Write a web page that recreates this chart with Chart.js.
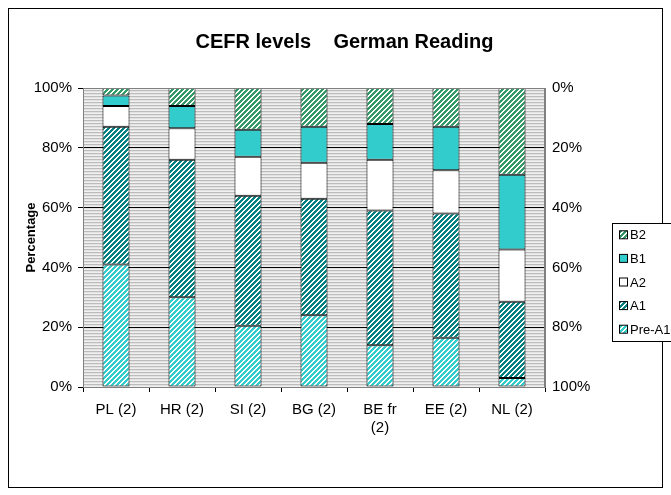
<!DOCTYPE html>
<html>
<head>
<meta charset="utf-8">
<script src="https://cdn.jsdelivr.net/npm/chart.js@4.4.1/dist/chart.umd.min.js"></script>
<style>
  body { margin: 0; background: #fff; }
  canvas { display: block; }
</style>
</head>
<body>
<canvas id="cefr-levels" width="671" height="495"></canvas>
<script>
const countries = ['PL (2)', 'HR (2)', 'SI (2)', 'BG (2)', ['BE fr', '(2)'], 'EE (2)', 'NL (2)'];
const levelNames = ['Pre-A1', 'A1', 'A2', 'B1', 'B2'];

// share of pupils per level (%), bottom to top
const preA1 = [41, 30, 20.5, 24, 14, 16.5, 3];
const a1 = [46, 46, 43.5, 39, 45, 41.5, 25.5];
const a2 = [7, 10.5, 13, 12, 17, 14.5, 17.5];
const b1 = [3.5, 7.5, 9, 12, 12, 14.5, 25];
const b2 = [2.5, 6, 14, 13, 12, 13, 29];

const percentTicks = [0, 20, 40, 60, 80, 100];

const FONT = '"Liberation Sans", Arial, sans-serif';

// diagonal "/" hatch like the old excel fills
function hatch(color, size, filled) {
    const c = document.createElement('canvas');
    c.width = size;
    c.height = size;
    const ctx = c.getContext('2d');
    ctx.fillStyle = '#fff';
    ctx.fillRect(0, 0, size, size);
    ctx.fillStyle = color;
    for (let x = 0; x < size; x++) {
        for (let y = 0; y < size; y++) {
            if ((x + y) % size < filled) ctx.fillRect(x, y, 1, 1);
        }
    }
    return ctx.createPattern(c, 'repeat');
}

function stripes() {
    const c = document.createElement('canvas');
    c.width = 1;
    c.height = 3;
    const ctx = c.getContext('2d');
    ['#bcbcbc', '#e2e2e2', '#f0f0f0'].forEach((col, i) => {
        ctx.fillStyle = col;
        ctx.fillRect(0, i, 1, 1);
    });
    return ctx.createPattern(c, 'repeat');
}

const fills = [
    hatch('#33cccc', 5, 3),
    hatch('#008080', 5, 3),
    '#ffffff',
    '#33cccc',
    hatch('#339966', 5, 3)
];

const series = [preA1, a1, a2, b1, b2];

const datasets = series.map((values, i) => ({
    label: levelNames[i],
    data: values,
    backgroundColor: fills[i],
    borderColor: '#000',
    borderWidth: 1,
    borderSkipped: false,
    categoryPercentage: 1,
    barPercentage: 0.41,
    yAxisID: 'y'
}));

const frame = {
    id: 'frame',
    beforeDraw(chart) {
        const ctx = chart.ctx;
        const a = chart.chartArea;
        ctx.save();
        ctx.fillStyle = stripes();
        ctx.fillRect(a.left, a.top, a.right - a.left, a.bottom - a.top);
        ctx.restore();
    },
    afterDraw(chart) {
        const ctx = chart.ctx;
        const a = chart.chartArea;
        ctx.save();
        ctx.strokeStyle = '#808080';
        ctx.lineWidth = 1;
        ctx.strokeRect(a.left + 0.5, a.top + 0.5, a.right - a.left - 1, a.bottom - a.top);

        // outer border
        ctx.strokeStyle = '#000';
        ctx.strokeRect(8.5, 8.5, 654, 479);

        // legend, top item is the last series
        const lx = 612, ly = 223, lh = 118;
        ctx.fillStyle = '#fff';
        ctx.fillRect(lx + 0.5, ly + 0.5, 80, lh);
        ctx.strokeRect(lx + 0.5, ly + 0.5, 80, lh);
        ctx.font = '13px ' + FONT;
        ctx.textBaseline = 'middle';
        const items = chart.data.datasets.slice().reverse();
        items.forEach((ds, i) => {
            const cy = ly + lh / 10 + i * lh / 5;
            ctx.fillStyle = ds.backgroundColor;
            ctx.fillRect(619.5, cy - 4, 8, 8);
            ctx.strokeStyle = '#000';
            ctx.strokeRect(619.5, cy - 4, 8, 8);
            ctx.fillStyle = '#000';
            ctx.fillText(ds.label, 630, cy + 1);
        });
        ctx.restore();
    }
};

const config = {
    type: 'bar',
    data: {
        labels: countries,
        datasets: datasets
    },
    options: {
        responsive: false,
        animation: false,
        devicePixelRatio: 1,
        layout: {
            padding: { left: 18, right: 0, top: 0, bottom: 0 }
        },
        plugins: {
            legend: { display: false },
            tooltip: { enabled: false },
            title: {
                display: true,
                text: 'CEFR levels    German Reading',
                color: '#000',
                font: { family: FONT, size: 20, weight: 'bold' },
                padding: { top: 30, bottom: 34 }
            }
        },
        scales: {
            x: {
                stacked: true,
                grid: {
                    offset: true,
                    drawOnChartArea: false,
                    tickLength: 5,
                    color: '#000'
                },
                border: { color: '#808080' },
                ticks: {
                    color: '#000',
                    font: { family: FONT, size: 15 },
                    maxRotation: 0,
                    autoSkip: false,
                    padding: 9
                },
                afterFit(scale) { scale.height = 108; }
            },
            y: {
                stacked: true,
                position: 'left',
                min: 0,
                max: 100,
                afterBuildTicks(scale) { scale.ticks = percentTicks.map(v => ({ value: v })); },
                ticks: {
                    color: '#000',
                    font: { family: FONT, size: 15 },
                    padding: 6,
                    callback: v => v + '%'
                },
                grid: { color: '#000', tickLength: 5 },
                border: { color: '#808080' },
                title: {
                    display: true,
                    text: 'Percentage',
                    color: '#000',
                    font: { family: FONT, size: 13, weight: 'bold' },
                    padding: { top: 6, bottom: 0 }
                },
                afterFit(scale) { scale.width = 65; }
            },
            y2: {
                position: 'right',
                reverse: true,
                min: 0,
                max: 100,
                afterBuildTicks(scale) { scale.ticks = percentTicks.map(v => ({ value: v })); },
                ticks: {
                    color: '#000',
                    font: { family: FONT, size: 15 },
                    padding: 7,
                    callback: v => v + '%'
                },
                grid: { drawOnChartArea: false, drawTicks: false },
                border: { color: '#808080' },
                afterFit(scale) { scale.width = 126; }
            }
        }
    },
    plugins: [frame]
};

const chart = new Chart(document.getElementById('cefr-levels'), config);
</script>
</body>
</html>
